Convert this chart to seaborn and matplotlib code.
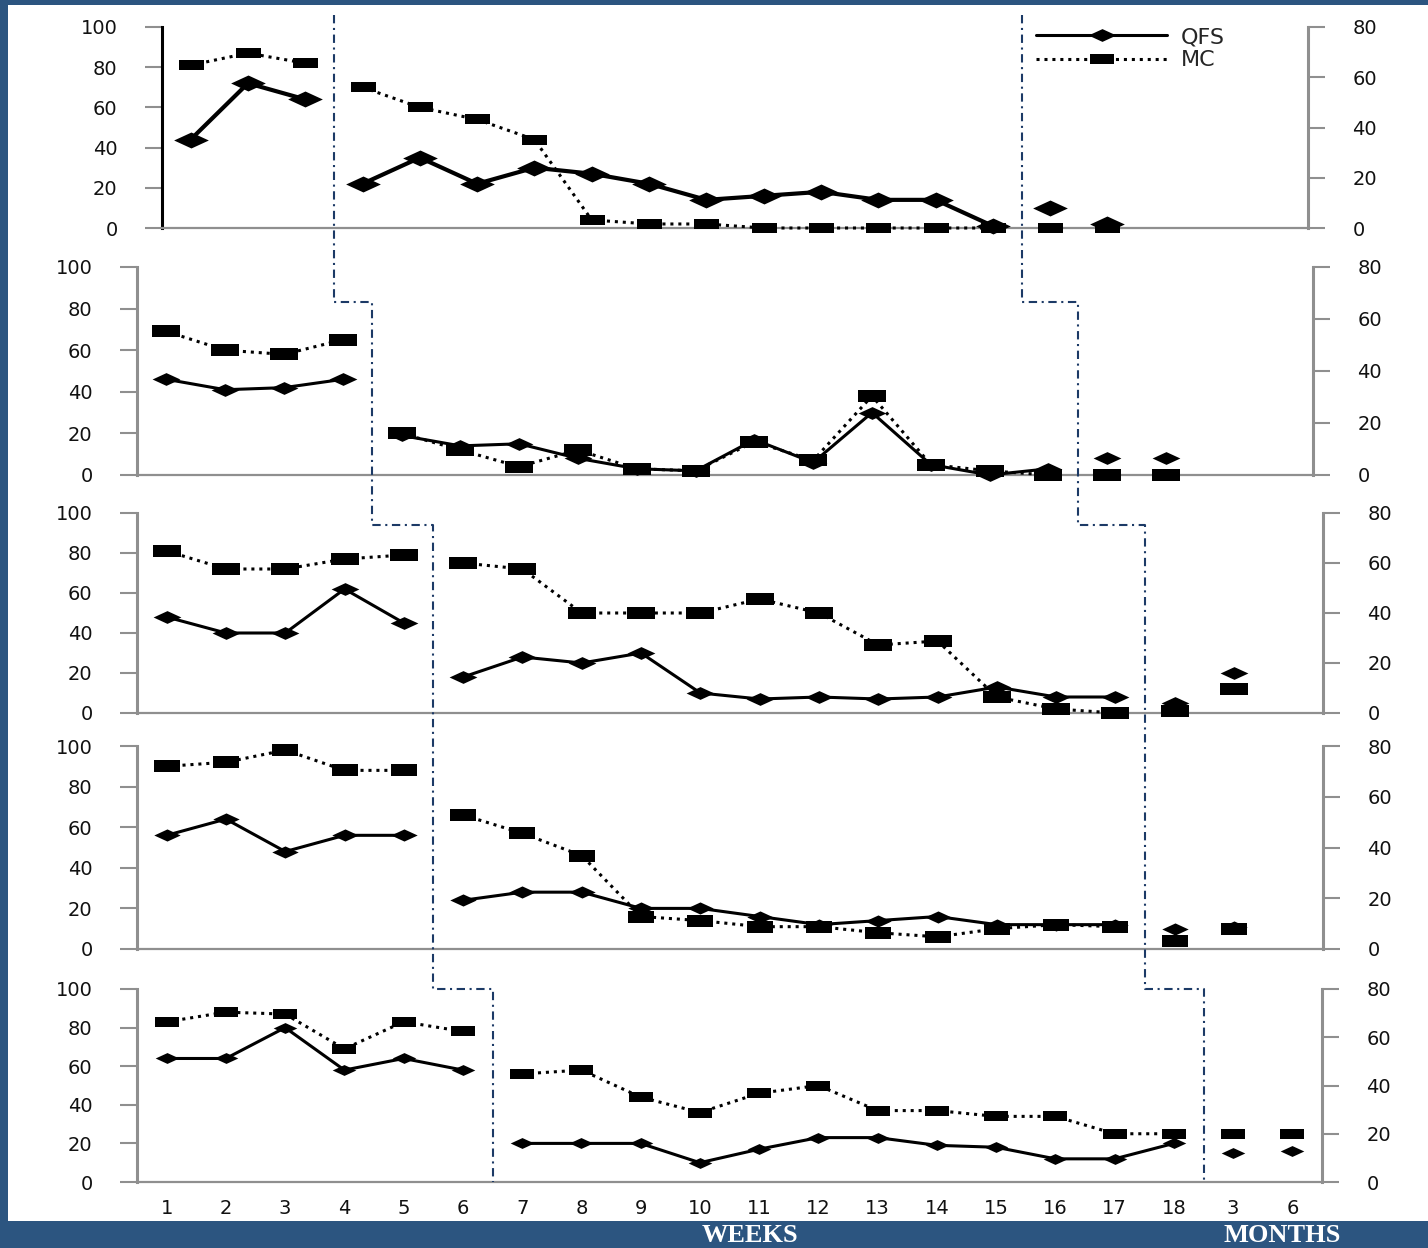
import numpy as np
import pandas as pd
import matplotlib
matplotlib.use("Agg")
import matplotlib.pyplot as plt
import seaborn as sns
from matplotlib.path import Path
from matplotlib.lines import Line2D
from matplotlib.patches import Rectangle

# ------------------------------------------------------------
# data: 18 weekly sessions + follow-up at 3 and 6 months
# ------------------------------------------------------------
x_labels = [str(i) for i in range(1, 19)] + ["3", "6"]
positions = np.arange(1, 21)
nan = np.nan

qfs_1 = [44, 72, 64, 22, 35, 22, 30, 27, 22, 14, 16, 18, 14, 14, 1, 10, 2, nan, nan, nan]
mc_1 = [81, 87, 82, 70, 60, 54, 44, 4, 2, 2, 0, 0, 0, 0, 0, 0, 0, nan, nan, nan]

qfs_2 = [46, 41, 42, 46, 19, 14, 15, 8, 3, 2, 17, 6, 30, 5, 0, 3, 8, 8, nan, nan]
mc_2 = [69, 60, 58, 65, 20, 12, 4, 12, 3, 2, 16, 7, 38, 5, 2, 0, 0, 0, nan, nan]

qfs_3 = [48, 40, 40, 62, 45, 18, 28, 25, 30, 10, 7, 8, 7, 8, 13, 8, 8, 5, 20, nan]
mc_3 = [81, 72, 72, 77, 79, 75, 72, 50, 50, 50, 57, 50, 34, 36, 8, 2, 0, 1, 12, nan]

qfs_4 = [56, 64, 48, 56, 56, 24, 28, 28, 20, 20, 16, 12, 14, 16, 12, 12, 12, 10, 11, nan]
mc_4 = [90, 92, 98, 88, 88, 66, 57, 46, 16, 14, 11, 11, 8, 6, 10, 12, 11, 4, 10, nan]

qfs_5 = [64, 64, 80, 58, 64, 58, 20, 20, 20, 10, 17, 23, 23, 19, 18, 12, 12, 20, 15, 16]
mc_5 = [83, 88, 87, 69, 83, 78, 56, 58, 44, 36, 46, 50, 37, 37, 34, 34, 25, 25, 25, 25]

qfs_all = [qfs_1, qfs_2, qfs_3, qfs_4, qfs_5]
mc_all = [mc_1, mc_2, mc_3, mc_4, mc_5]

# last baseline session and last treatment session for each participant
n_baseline = [3, 4, 5, 5, 6]
n_treatment_end = [15, 16, 17, 17, 18]

# ------------------------------------------------------------
# style
# ------------------------------------------------------------
sns.set_style("white")
plt.rcParams["font.family"] = ["DejaVu Sans"]

BLUE = "#2c5580"
NAVY = "#1c3a66"
GREY = "#8f8f8f"
TICK_FS = 14

W, H = 1428, 1248
fig = plt.figure(figsize=(W / 100, H / 100), dpi=100)
fig.patch.set_facecolor(BLUE)
fig.add_artist(Rectangle((8 / W, (H - 1221) / H), (W - 8) / W, (1221 - 5) / H,
                         transform=fig.transFigure, facecolor="white",
                         edgecolor="none", zorder=-5))

diamond = Path([(-1, 0), (0, 0.46), (1, 0), (0, -0.46), (-1, 0)],
               [Path.MOVETO, Path.LINETO, Path.LINETO, Path.LINETO, Path.CLOSEPOLY])
square = Path([(-1, -0.42), (1, -0.42), (1, 0.42), (-1, 0.42), (-1, -0.42)],
              [Path.MOVETO, Path.LINETO, Path.LINETO, Path.LINETO, Path.CLOSEPOLY])

# panel boxes in pixels: left, right, top (100), bottom (0)
boxes = [(162, 1308, 27, 228), (137, 1313, 267, 475), (137, 1323, 513, 713),
         (137, 1323, 746, 949), (137, 1322, 989, 1182)]
diamond_ms = [25, 20, 20, 19, 17]
square_ms = [18, 20, 20, 19, 17]
qfs_lw = [3.0, 2.2, 2.2, 2.2, 2.2]
dotted = (0, (1.0, 1.6))

axes = []
for k, (l, r, t, b) in enumerate(boxes):
    ax = fig.add_axes([l / W, 1 - b / H, (r - l) / W, (b - t) / H])
    ax.set_facecolor("white")
    axes.append(ax)

    df = pd.DataFrame({"pos": positions, "QFS": qfs_all[k], "MC": mc_all[k]})
    df["phase"] = np.where(df["pos"] <= n_baseline[k], "baseline",
                           np.where(df["pos"] <= n_treatment_end[k], "treatment", "follow-up"))
    long = df.melt(id_vars=["pos", "phase"], var_name="measure", value_name="score").dropna()

    for measure in ["MC", "QFS"]:
        if measure == "QFS":
            mk, ms, ls, lw, z = diamond, diamond_ms[k], "-", qfs_lw[k], 4
        else:
            mk, ms, ls, lw, z = square, square_ms[k], dotted, 2.2, 3
        for ph in ["baseline", "treatment"]:
            sub = long[(long["measure"] == measure) & (long["phase"] == ph)]
            sns.lineplot(data=sub, x="pos", y="score", ax=ax, color="black",
                         linewidth=lw, linestyle=ls, marker=mk, markersize=ms,
                         markeredgewidth=0, errorbar=None, clip_on=False, zorder=z)
        fol = long[(long["measure"] == measure) & (long["phase"] == "follow-up")]
        if len(fol):
            sns.scatterplot(data=fol, x="pos", y="score", ax=ax, color="black",
                            marker=mk, s=ms ** 2, linewidth=0, clip_on=False, zorder=z)

    ax.set_xlim(0.5, 20.5)
    ax.set_ylim(0, 100)
    ax.set_yticks(range(0, 101, 20))
    ax.set_xticks(positions)
    ax.set_xticks(np.arange(0.5, 21, 1), minor=True)
    if k == 4:
        ax.set_xticklabels(x_labels)
    else:
        ax.set_xticklabels([])
    ax.set_xlabel("")
    ax.set_ylabel("")
    ax.tick_params(axis="x", which="major", length=0, pad=12, labelsize=TICK_FS, labelcolor="#111111")
    ax.tick_params(axis="x", which="minor", length=4.5, width=1.8, color=GREY, direction="out")
    ax.tick_params(axis="y", length=12, width=1.5, color=GREY, pad=20,
                   labelsize=TICK_FS, labelcolor="#111111", left=True)
    for s in ["top", "right"]:
        ax.spines[s].set_visible(False)
    ax.spines["bottom"].set_color(GREY)
    ax.spines["bottom"].set_linewidth(1.6)
    ax.spines["left"].set_color("black" if k == 0 else GREY)
    ax.spines["left"].set_linewidth(2.2)

    ax2 = ax.twinx()
    ax2.set_ylim(0, 80)
    ax2.set_yticks(range(0, 81, 20))
    ax2.tick_params(axis="y", length=12, width=1.5, color=GREY, pad=20,
                    labelsize=TICK_FS, labelcolor="#111111", right=True)
    for s in ["top", "left", "bottom"]:
        ax2.spines[s].set_visible(False)
    ax2.spines["right"].set_color(GREY)
    ax2.spines["right"].set_linewidth(2.2)

# ------------------------------------------------------------
# phase change lines stepping across the panels
# ------------------------------------------------------------
step_level = [None, 83, 94, 94, 100]
to_fig = fig.transFigure.inverted()


def phase_line(bounds):
    pts = []
    x0 = bounds[0] + 0.5
    pts.append(axes[0].transData.transform((x0, 106)))
    for k in range(1, 5):
        xp = bounds[k - 1] + 0.5
        xn = bounds[k] + 0.5
        px_prev = axes[k - 1].transData.transform((xp, 0))[0]
        py = axes[k].transData.transform((xn, step_level[k]))[1]
        pts.append((px_prev, py))
        pts.append(axes[k].transData.transform((xn, step_level[k])))
    pts.append(axes[4].transData.transform((bounds[4] + 0.5, 0)))
    pts = to_fig.transform(np.array(pts))
    fig.add_artist(Line2D(pts[:, 0], pts[:, 1], transform=fig.transFigure,
                          color=NAVY, linewidth=1.5, linestyle=(0, (4, 2.2, 1, 2.2)),
                          zorder=6))


phase_line(n_baseline)
phase_line(n_treatment_end)

# legend
handles = [Line2D([], [], color="black", linewidth=2.2, marker=diamond, markersize=20,
                  markeredgewidth=0),
           Line2D([], [], color="black", linewidth=2.2, linestyle=dotted, marker=square,
                  markersize=17, markeredgewidth=0)]
fig.legend(handles, ["QFS", "MC"], loc="upper left", bbox_to_anchor=(1036 / W, 1 - 27 / H),
           frameon=False, handlelength=5.9, handletextpad=0.6, numpoints=1,
           fontsize=16, labelspacing=0.15, borderpad=0, borderaxespad=0)

# bottom band labels
fig.text(750 / W, 1 - 1236 / H, "WEEKS", ha="center", va="center", color="white",
         fontsize=19, fontweight="bold", family="Liberation Serif")
fig.text(1282 / W, 1 - 1236 / H, "MONTHS", ha="center", va="center", color="white",
         fontsize=19, fontweight="bold", family="Liberation Serif")

fig.savefig("out.png", dpi=100, facecolor=fig.get_facecolor())
